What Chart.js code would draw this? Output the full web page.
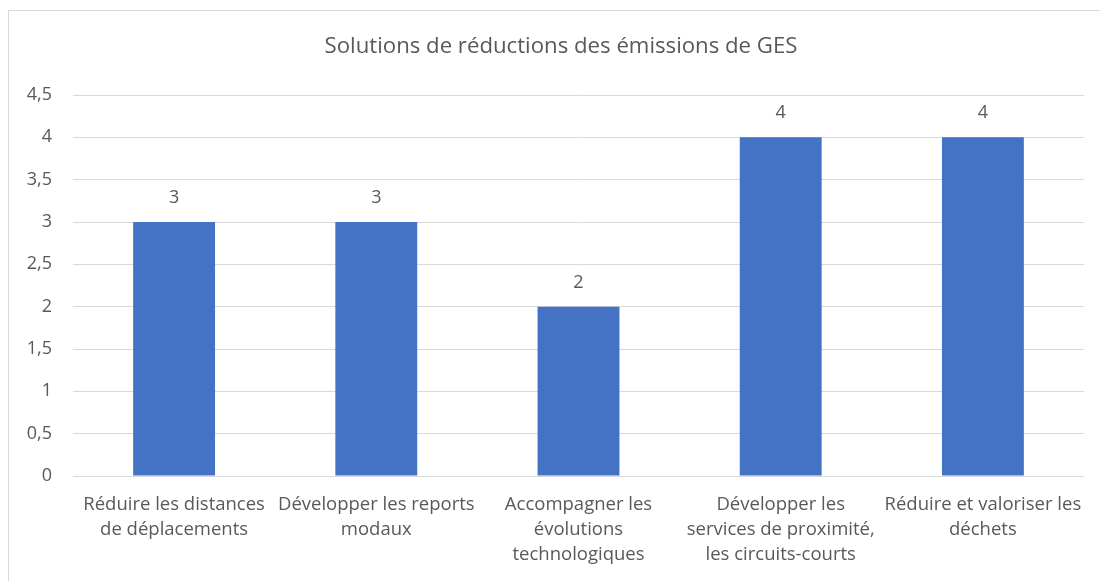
<!DOCTYPE html>
<html>
<head>
<meta charset="utf-8">
<script src="https://cdn.jsdelivr.net/npm/chart.js@4/dist/chart.umd.min.js"></script>
<style>
  body { margin: 0; background: #fff; }
  #wrap { position: relative; width: 1100px; height: 581px; overflow: hidden; }
  #frame { position: absolute; left: 8px; top: 10px; width: 1200px; height: 700px; border: 1px solid #d9d9d9; }
  #customChart { position: absolute; left: 0; top: 0; }
</style>
</head>
<body>
<div id="wrap">
  <div id="frame"></div>
  <canvas id="customChart" width="1100" height="581"></canvas>
</div>
<script>
const ctx = document.getElementById('customChart').getContext('2d');

// Data
const title = 'Solutions de réductions des émissions de GES';
const labels = [
    ['Réduire les distances', 'de déplacements'],
    ['Développer les reports', 'modaux'],
    ['Accompagner les', 'évolutions', 'technologiques'],
    ['Développer les', 'services de proximité,', 'les circuits-courts'],
    ['Réduire et valoriser les', 'déchets']
];
const values = [3, 3, 2, 4, 4];

const textColor = '#595959';
const fontFamily = '"Open Sans", sans-serif';

// value labels above the bars + title centred on the chart frame (like Excel)
const textPlugin = {
    id: 'textPlugin',
    afterDatasetsDraw(chart) {
        const c = chart.ctx;
        const meta = chart.getDatasetMeta(0);
        c.save();
        c.fillStyle = textColor;
        c.textAlign = 'center';
        c.textBaseline = 'middle';
        c.font = '18px ' + fontFamily;
        meta.data.forEach((bar, i) => {
            c.fillText(String(values[i]).replace('.', ','), bar.x, bar.y - 24);
        });
        c.font = '22.2px ' + fontFamily;
        c.fillText(title, 561, 47);
        c.restore();
    }
};

const customChart = new Chart(ctx, {
    type: 'bar',
    data: {
        labels: labels,
        datasets: [
            {
                label: 'Série1',
                data: values,
                backgroundColor: '#4472C4',
                borderWidth: 0,
                categoryPercentage: 1,
                barPercentage: 0.405
            }
        ]
    },
    options: {
        responsive: false,
        animation: false,
        layout: {
            padding: { left: 0, right: 16, top: 95, bottom: 0 }
        },
        scales: {
            x: {
                grid: { display: false },
                border: { display: false },
                ticks: {
                    color: textColor,
                    font: { family: fontFamily, size: 18.5, lineHeight: 1.35 },
                    maxRotation: 0,
                    autoSkip: false,
                    padding: 8
                },
                afterFit(scale) { scale.height = 105; }
            },
            y: {
                min: 0,
                max: 4.5,
                grid: { color: '#d9d9d9', lineWidth: 1, drawTicks: false },
                border: { display: false },
                ticks: {
                    stepSize: 0.5,
                    color: textColor,
                    font: { family: fontFamily, size: 18 },
                    padding: 21,
                    callback: (v) => String(v).replace('.', ',')
                },
                afterFit(scale) { scale.width = 73; }
            }
        },
        plugins: {
            legend: { display: false },
            tooltip: { enabled: false },
            title: { display: false }
        }
    },
    plugins: [textPlugin]
});
</script>
</body>
</html>
